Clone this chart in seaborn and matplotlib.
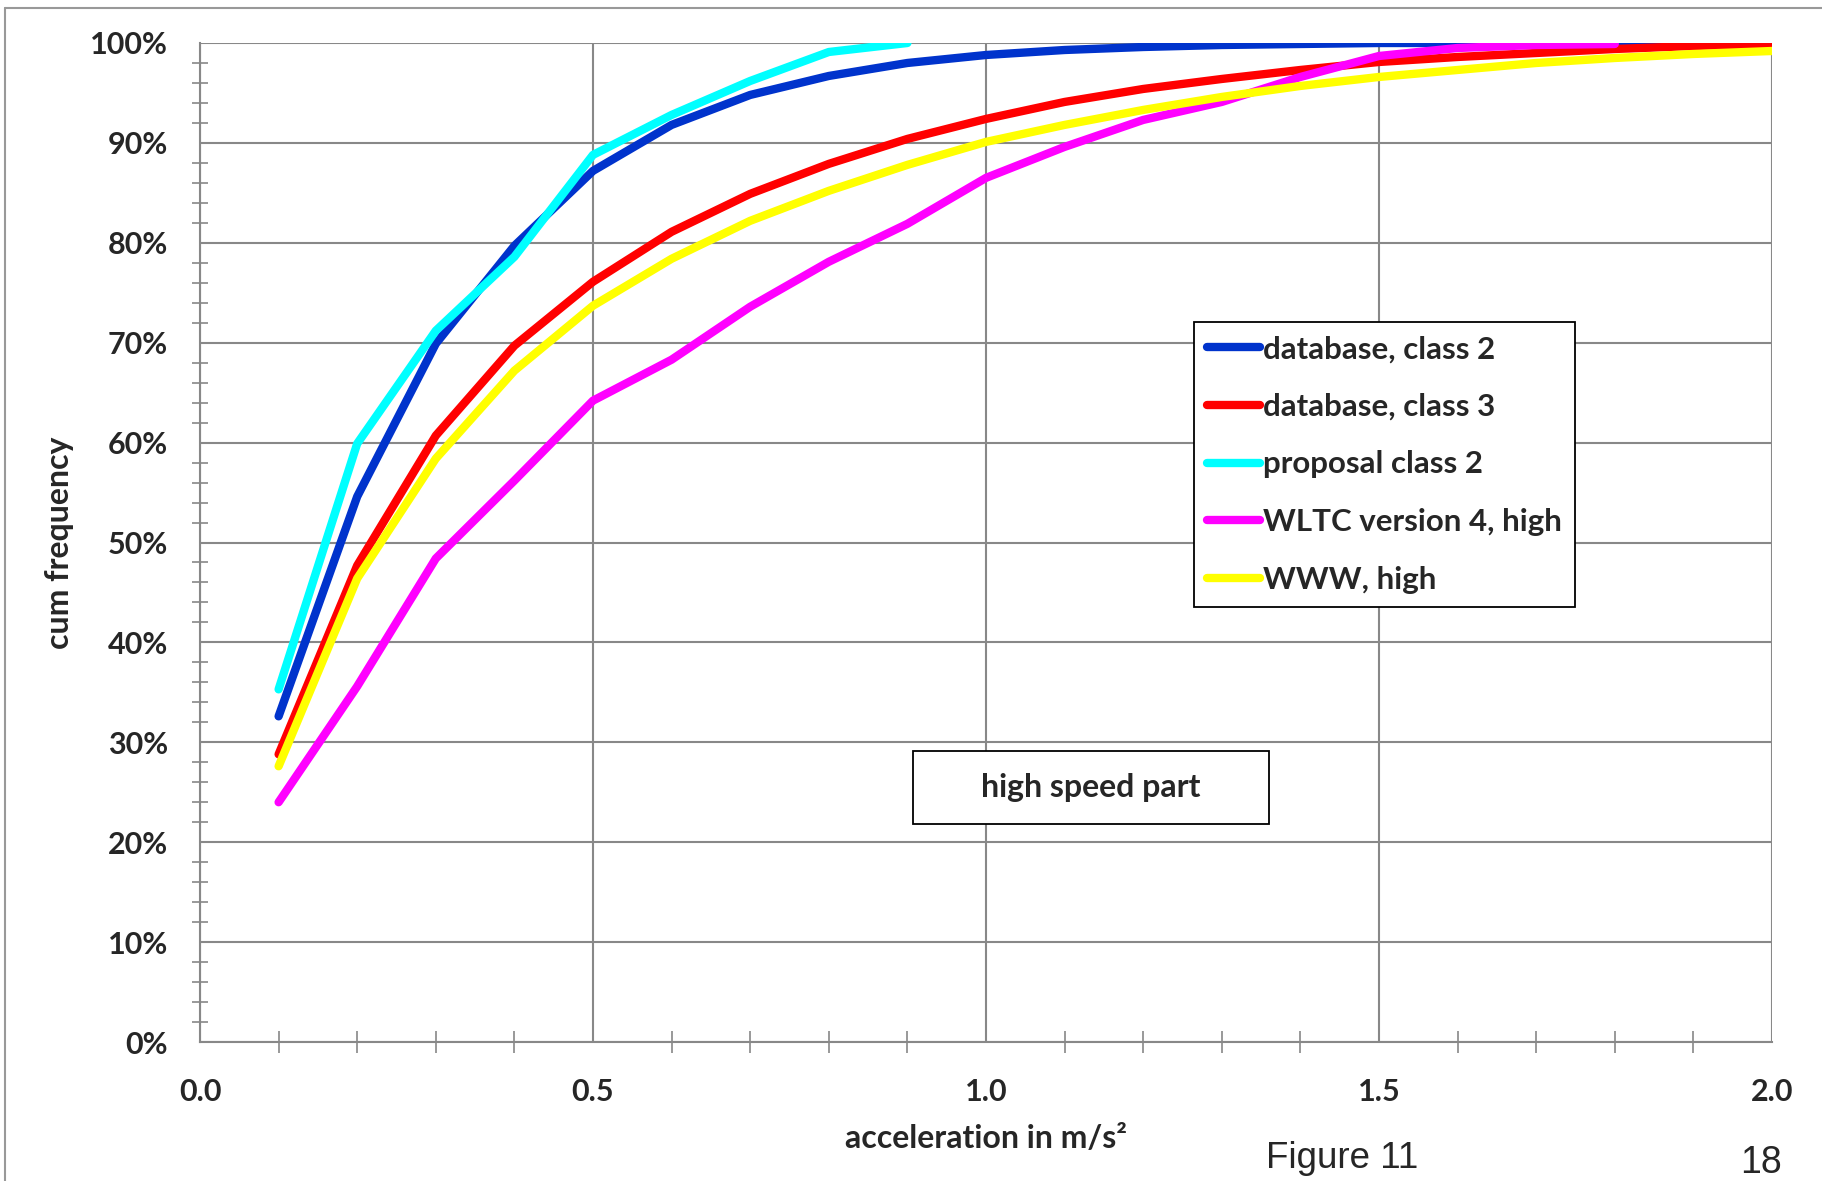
import numpy as np
import pandas as pd
import matplotlib
matplotlib.use("Agg")
import matplotlib.pyplot as plt
from matplotlib.lines import Line2D
from matplotlib.patches import Rectangle
from matplotlib.ticker import MultipleLocator, FuncFormatter
import seaborn as sns

# ---- data ----
accel = [0.1, 0.2, 0.3, 0.4, 0.5, 0.6, 0.7, 0.8, 0.9, 1.0,
         1.1, 1.2, 1.3, 1.4, 1.5, 1.6, 1.7, 1.8, 1.9, 2.0]
db_class2 = [32.6, 54.6, 69.9, 79.7, 87.2, 91.8, 94.8, 96.7, 98.0, 98.8,
             99.3, 99.6, 99.8, 99.9, 100, 100, 100, 100, 100, 100]
db_class3 = [28.8, 47.7, 60.7, 69.7, 76.1, 81.1, 84.9, 87.9, 90.4, 92.4,
             94.1, 95.4, 96.4, 97.3, 98.1, 98.6, 99.0, 99.4, 99.7, 99.9]
proposal_class2 = [35.3, 59.9, 71.2, 78.6, 88.8, 92.8, 96.2, 99.1, 100]
wltc_v4_high = [24.0, 35.6, 48.4, 56.2, 64.2, 68.3, 73.6, 78.1, 81.9, 86.5,
                89.6, 92.3, 94.1, 96.6, 98.7, 99.5, 99.8, 99.9]
www_high = [27.6, 46.4, 58.4, 67.2, 73.7, 78.4, 82.2, 85.2, 87.8, 90.1,
            91.8, 93.3, 94.6, 95.7, 96.6, 97.3, 98.0, 98.5, 98.9, 99.2]

series_names = ["database, class 2", "database, class 3", "proposal class 2",
                "WLTC version 4, high", "WWW, high"]
series_values = [db_class2, db_class3, proposal_class2, wltc_v4_high, www_high]
series_colors = ["#0033CC", "#FF0000", "#00FFFF", "#FF00FF", "#FFFF00"]

rows = []
for name, vals in zip(series_names, series_values):
    for xv, yv in zip(accel, vals):
        rows.append({"acc": xv, "freq": yv, "series": name})
df = pd.DataFrame(rows)

sns.set_theme(style="white")
plt.rcParams["font.family"] = ["Lato", "DejaVu Sans"]
plt.rcParams["font.weight"] = "bold"

W, H = 1822, 1181
fig = plt.figure(figsize=(W / 100, H / 100), dpi=100)
ax = fig.add_axes([200 / W, (H - 1042) / H, 1572 / W, 999 / H])

LW = 6.0
palette = dict(zip(series_names, series_colors))
sns.lineplot(data=df, x="acc", y="freq", hue="series", hue_order=series_names,
             palette=palette, linewidth=LW, ax=ax, legend=False,
             estimator=None, sort=False)
for ln in ax.lines:
    ln.set_solid_capstyle("round")
    ln.set_solid_joinstyle("round")

ax.set_xlim(0, 2.0)
ax.set_ylim(0, 100)
ax.xaxis.set_major_locator(MultipleLocator(0.5))
ax.xaxis.set_minor_locator(MultipleLocator(0.1))
ax.yaxis.set_major_locator(MultipleLocator(10))
ax.yaxis.set_minor_locator(MultipleLocator(2))
ax.xaxis.set_major_formatter(FuncFormatter(lambda v, p: f"{v:.1f}"))
ax.yaxis.set_major_formatter(FuncFormatter(lambda v, p: f"{v:.0f}%"))

gc = "#888888"
ax.grid(True, which="major", color=gc, linewidth=1.5)
ax.set_axisbelow(True)
for s in ["top", "right"]:
    ax.spines[s].set_visible(False)
for s in ["left", "bottom"]:
    ax.spines[s].set_color(gc)
    ax.spines[s].set_linewidth(1.5)

ax.tick_params(axis="y", which="major", direction="out", length=8, width=1.5,
               color=gc, pad=15, labelsize=22)
ax.tick_params(axis="y", which="minor", direction="inout", length=12, width=1.2,
               color=gc, left=True)
ax.tick_params(axis="x", which="major", direction="inout", length=16, width=1.5,
               color=gc, pad=18, labelsize=22)
ax.tick_params(axis="x", which="minor", direction="inout", length=16, width=1.2,
               color=gc, bottom=True)
for lab in ax.get_xticklabels() + ax.get_yticklabels():
    lab.set_fontweight("bold")

ax.set_xlabel("acceleration in m/s²", fontsize=23, fontweight="bold")
ax.set_ylabel("cum frequency", fontsize=23, fontweight="bold")
ax.xaxis.set_label_coords(0.5, -0.082)
ax.yaxis.set_label_coords(-0.08, 0.5)

handles = [Line2D([0], [0], color=c, linewidth=LW, solid_capstyle="round")
           for c in series_colors]
leg = ax.legend(handles, series_names, loc="upper left",
                bbox_to_anchor=((1194 - 200) / 1572, (1042 - 322) / 999),
                borderaxespad=0, fontsize=22.5, frameon=True, fancybox=False,
                framealpha=1, edgecolor="black", handlelength=1.68,
                handletextpad=0.12, labelspacing=0.95, borderpad=0.42)
leg.get_frame().set_linewidth(1.3)
for t in leg.get_texts():
    t.set_fontweight("bold")

# "high speed part" label box
ax.add_patch(Rectangle((0.9065, 21.8), 0.4535, 7.3, facecolor="white",
                       edgecolor="black", linewidth=1.3, zorder=5))
ax.text(1.133, 25.45, "high speed part", ha="center", va="center",
        fontsize=23, fontweight="bold", zorder=6)

fig.text(1342 / W, 1 - 1158 / H, "Figure 11", ha="center", va="center",
         fontsize=26.5, fontweight="normal", family="Liberation Sans")
fig.text(1761 / W, 1 - 1163 / H, "18", ha="center", va="center",
         fontsize=27, fontweight="normal", family="Liberation Sans")

# outer frame (top and left edges visible)
fig.add_artist(Line2D([5 / W, 1.0], [1 - 8 / H, 1 - 8 / H], color="#999999",
                      linewidth=1.5, transform=fig.transFigure))
fig.add_artist(Line2D([5 / W, 5 / W], [0, 1 - 8 / H], color="#999999",
                      linewidth=1.5, transform=fig.transFigure))

fig.savefig("out.png", dpi=100)
